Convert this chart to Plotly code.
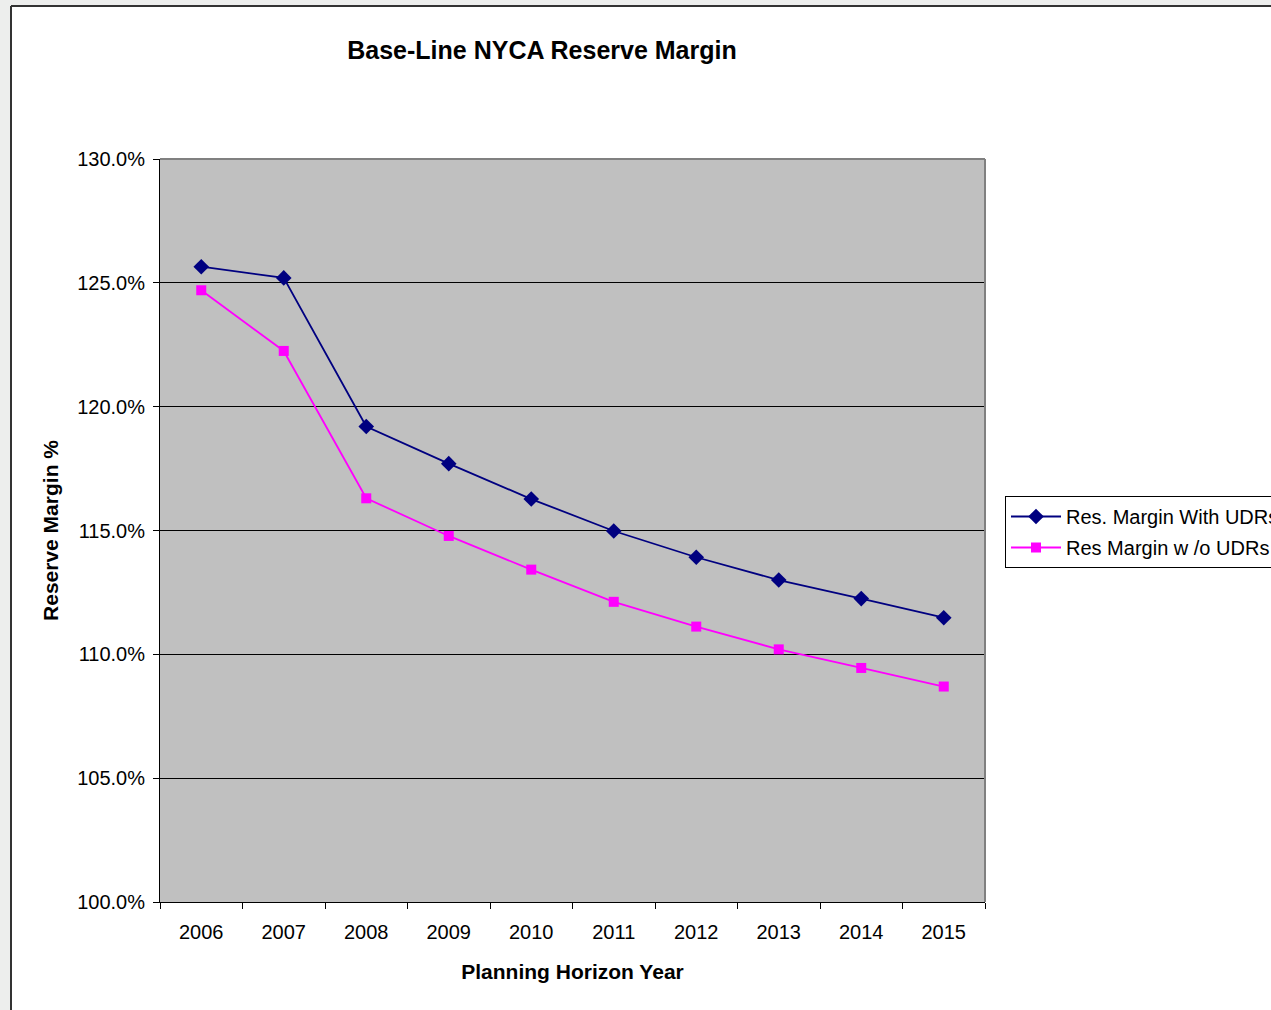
import plotly.graph_objects as go

years = ["2006", "2007", "2008", "2009", "2010", "2011", "2012", "2013", "2014", "2015"]
with_udrs = [125.65, 125.2, 119.2, 117.7, 116.27, 114.98, 113.92, 113.0, 112.25, 111.48]
without_udrs = [124.7, 122.25, 116.3, 114.78, 113.42, 112.12, 111.12, 110.2, 109.45, 108.7]

W, H = 1271, 1010
L, R, T, B = 160, 985, 159, 902


def px_x(p):
    return (p - L) / (R - L)


def px_y(p):
    return (B - p) / (B - T)


fig = go.Figure()

fig.add_trace(go.Scatter(
    x=years, y=with_udrs, name="Res. Margin With UDRs",
    mode="lines+markers", legendgroup="a",
    line=dict(color="#000080", width=1.8),
    marker=dict(symbol="diamond", size=12, color="#000080"),
))

fig.add_trace(go.Scatter(
    x=years, y=without_udrs, name="Res Margin w /o UDRs",
    mode="lines+markers", legendgroup="b",
    line=dict(color="#FF00FF", width=1.8),
    marker=dict(symbol="square", size=10, color="#FF00FF"),
))

font = "Liberation Sans, Arial, sans-serif"

fig.update_layout(
    width=W, height=H,
    margin=dict(l=L, r=W - R, t=T, b=H - B, autoexpand=False),
    paper_bgcolor="white",
    plot_bgcolor="#C0C0C0",
    font=dict(family=font, size=20, color="black"),
    title=dict(text="<b>Base-Line NYCA Reserve Margin</b>", x=px_x(542), xref="paper",
               xanchor="center", y=1 - 50 / H, yanchor="middle", font=dict(size=25)),
    showlegend=True,
    legend=dict(x=px_x(1005), y=px_y(496), xanchor="left", yanchor="top",
                bgcolor="white", bordercolor="black", borderwidth=1,
                font=dict(size=20), itemwidth=50, tracegroupgap=2,
                traceorder="grouped"),
)

fig.update_xaxes(
    type="category", range=[-0.5, 9.5],
    showline=True, linecolor="black", linewidth=1,
    ticks="outside", tickson="boundaries", ticklen=6, tickcolor="black",
    ticklabelstandoff=12,
    showgrid=False,
    title=dict(text="<b>Planning Horizon Year</b>", font=dict(size=21), standoff=22),
)

fig.update_yaxes(
    range=[100, 130], dtick=5, tickformat=".1f", ticksuffix="%",
    showline=True, linecolor="black", linewidth=1,
    ticks="outside", ticklen=6, tickcolor="black",
    ticklabelstandoff=4,
    showgrid=True, gridcolor="black", gridwidth=1,
    zeroline=False,
    title=dict(text="<b>Reserve Margin %</b>", font=dict(size=21), standoff=12),
)

# plot area top and right edges in gray
fig.add_shape(type="line", xref="paper", yref="paper", x0=0, x1=1, y0=1, y1=1,
              line=dict(color="#808080", width=2))
fig.add_shape(type="line", xref="paper", yref="paper", x0=1, x1=1, y0=0, y1=1,
              line=dict(color="#808080", width=2))

# outer frame: light gray strips plus dark border
fig.add_shape(type="rect", xref="paper", yref="paper", x0=px_x(0), x1=px_x(11),
              y0=px_y(H), y1=px_y(0), fillcolor="#EDEEED", line=dict(width=0))
fig.add_shape(type="rect", xref="paper", yref="paper", x0=px_x(0), x1=px_x(W),
              y0=px_y(6), y1=px_y(0), fillcolor="#EDEEED", line=dict(width=0))
fig.add_shape(type="line", xref="paper", yref="paper", x0=px_x(11), x1=px_x(11),
              y0=px_y(H), y1=px_y(6), line=dict(color="#333333", width=2))
fig.add_shape(type="line", xref="paper", yref="paper", x0=px_x(11), x1=px_x(W),
              y0=px_y(6), y1=px_y(6), line=dict(color="#333333", width=2))

# drop the default page margin so the figure sits at the window corner
fig.write_html("out.html", config={"displayModeBar": False},
               post_script="document.body.style.margin='0';")
